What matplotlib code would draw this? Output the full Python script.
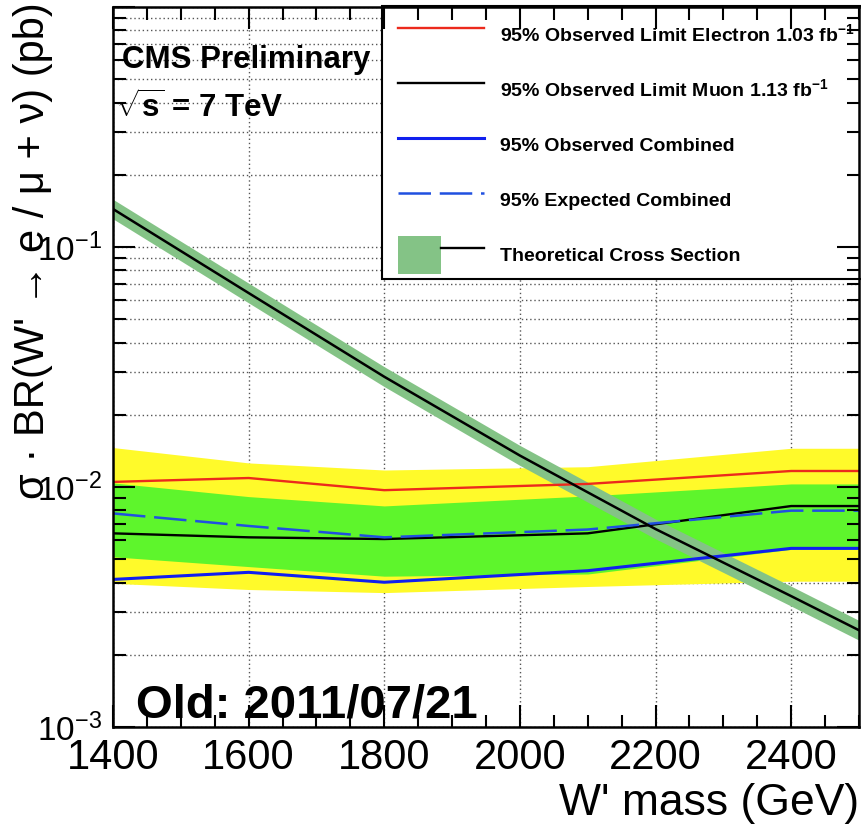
import matplotlib
matplotlib.use("Agg")
import matplotlib.pyplot as plt
from matplotlib.lines import Line2D
from matplotlib.patches import Patch, Rectangle
from matplotlib.legend_handler import HandlerTuple
from matplotlib.ticker import MultipleLocator, LogLocator, FixedLocator, NullFormatter

plt.rcParams['font.family'] = ['Liberation Sans', 'DejaVu Sans']
plt.rcParams['mathtext.fontset'] = 'custom'
plt.rcParams['mathtext.rm'] = 'Liberation Sans'
plt.rcParams['mathtext.it'] = 'Liberation Sans:italic'
plt.rcParams['mathtext.bf'] = 'Liberation Sans:bold'

# ---- data ----
mass = [1400, 1600, 1800, 2100, 2400, 2500]
obs_electron = [0.0105, 0.0109, 0.0097, 0.0103, 0.01166, 0.01166]
obs_muon = [0.00641, 0.00617, 0.00607, 0.00641, 0.00833, 0.00833]
obs_combined = [0.00412, 0.00441, 0.00401, 0.00448, 0.00555, 0.00555]
exp_combined = [0.00776, 0.00688, 0.00617, 0.00665, 0.00797, 0.00797]
one_sigma_lo = [0.00512, 0.00466, 0.00425, 0.00434, 0.00550, 0.00550]
one_sigma_hi = [0.0104, 0.00912, 0.00834, 0.00918, 0.0103, 0.0103]
two_sigma_lo = [0.00397, 0.00374, 0.00363, 0.00385, 0.00405, 0.00405]
two_sigma_hi = [0.0146, 0.0126, 0.01177, 0.01215, 0.0145, 0.0145]

theory_mass = [1400, 1600, 1800, 2000, 2200, 2400, 2500]
theory_xs = [0.144, 0.0643, 0.0288, 0.01352, 0.00668, 0.00351, 0.00253]
theory_lo = [0.131, 0.0585, 0.0262, 0.0123, 0.00608, 0.00319, 0.00230]
theory_hi = [0.158, 0.0707, 0.0317, 0.0149, 0.00735, 0.00386, 0.00278]

xticks = [1400, 1600, 1800, 2000, 2200, 2400]
yticks = [1e-3, 1e-2, 1e-1, 1e0]
ytick_labels = [r'$10^{-3}$', r'$10^{-2}$', r'$10^{-1}$', '']

legend_labels = [
    r'95% Observed Limit Electron 1.03 fb$^{\mathbf{-1}}$',
    r'95% Observed Limit Muon 1.13 fb$^{\mathbf{-1}}$',
    '95% Observed Combined',
    '95% Expected Combined',
    'Theoretical Cross Section',
]

W, H = 861, 827
fig = plt.figure(figsize=(W / 100, H / 100), dpi=100)
L, R, B, T = 113, 859, 727, 7
pos = [L / W, 1 - B / H, (R - L) / W, (B - T) / H]
ax = fig.add_axes(pos)

c_yellow = '#fffa2a'
c_green = '#5ef52c'
c_theory = '#84c386'
c_red = '#ec2a1c'
c_blue = '#1020ee'
c_dblue = '#2050e0'

ax.fill_between(mass, two_sigma_lo, two_sigma_hi, color=c_yellow, lw=0, zorder=2)
ax.fill_between(mass, one_sigma_lo, one_sigma_hi, color=c_green, lw=0, zorder=2.1)
ax.fill_between(theory_mass, theory_lo, theory_hi, color=c_theory, lw=0, zorder=2.2)
ax.plot(mass, obs_electron, color=c_red, lw=1.7, zorder=3)
ax.plot(mass, obs_muon, color='black', lw=1.7, zorder=3)
ax.plot(mass, exp_combined, color=c_dblue, lw=1.8, dashes=(13, 3.5), zorder=3)
ax.plot(mass, obs_combined, color=c_blue, lw=2.2, zorder=3)
ax.plot(theory_mass, theory_xs, color='black', lw=1.8, zorder=3.5)

ax.set_xlim(1400, 2500)
ax.set_yscale('log')
ax.set_ylim(1e-3, 1e0)

ax.xaxis.set_major_locator(FixedLocator(xticks))
ax.xaxis.set_minor_locator(MultipleLocator(50))
ax.set_xticklabels([str(v) for v in xticks])
ax.yaxis.set_major_locator(FixedLocator(yticks))
ax.set_yticklabels(ytick_labels)
ax.yaxis.set_minor_locator(LogLocator(base=10, subs=range(2, 10)))
ax.yaxis.set_minor_formatter(NullFormatter())

grid_kw = dict(color='#555555', lw=1.0, linestyle=(0, (1, 2)))
ax.grid(True, which='major', axis='x', **grid_kw)
ax.grid(True, which='both', axis='y', **grid_kw)
ax.set_axisbelow(True)
ax.tick_params(which='both', length=0)
ax.tick_params(axis='x', labelsize=30, pad=8)
ax.tick_params(axis='y', labelsize=24, pad=8)
for s in ax.spines.values():
    s.set_visible(False)

# legend box (white, figure-level) between the data axes and the tick overlay
box = Rectangle((382 / W, 1 - 279 / H), (900 - 382) / W, (279 - 6) / H,
                transform=fig.transFigure, facecolor='white', edgecolor='black',
                lw=1.5, zorder=1)
fig.patches.append(box)

# overlay axes for frame + ticks
ax2 = fig.add_axes(pos, sharex=ax, sharey=ax, zorder=2)
ax2.patch.set_visible(False)
ax2.tick_params(which='both', direction='in', top=True, right=True,
                labelbottom=False, labelleft=False, width=1.5)
ax2.tick_params(which='major', length=16)
ax2.tick_params(which='minor', length=9)
for s in ax2.spines.values():
    s.set_linewidth(1.8)

handles = [
    Line2D([], [], color=c_red, lw=1.7),
    Line2D([], [], color='black', lw=1.7),
    Line2D([], [], color=c_blue, lw=2.2),
    Line2D([], [], color=c_dblue, lw=1.8, dashes=(13, 3.5)),
    (Patch(facecolor=c_theory, edgecolor='none'), Line2D([], [], color='black', lw=1.7)),
]
leg = ax2.legend(handles, legend_labels, loc='upper left',
                 bbox_to_anchor=(398 / W, 1 - 16 / H), bbox_transform=fig.transFigure,
                 frameon=False, borderpad=0, borderaxespad=0,
                 handlelength=4.4, handleheight=2.63, handletextpad=0.87,
                 labelspacing=0.87,
                 prop={'family': 'Liberation Sans', 'weight': 'bold', 'size': 14},
                 handler_map={tuple: HandlerTuple(ndivide=None, pad=0)})

# texts
fig.text(122 / W, 1 - 68 / H, 'CMS Preliminary', fontsize=22.5, fontweight='bold',
         ha='left', va='baseline')
fig.text(116 / W, 1 - 118 / H, r'$\sqrt{\mathbf{s}}$ = 7 TeV', fontsize=22.5,
         fontweight='bold', ha='left', va='baseline')
fig.text(136 / W, 1 - 718 / H, 'Old: 2011/07/21', fontsize=34, fontweight='bold',
         ha='left', va='baseline', zorder=5)
fig.text(33 / W, 1 - 2 / H, "\u03c3 \u00b7 BR(W' \u2192 e / \u03bc + \u03bd) (pb)",
         fontsize=30, rotation=90, ha='center', va='top')
fig.text(859 / W, 1 - 803 / H, "W' mass (GeV)", fontsize=32, ha='right', va='center')

fig.savefig('out.png', dpi=100)
